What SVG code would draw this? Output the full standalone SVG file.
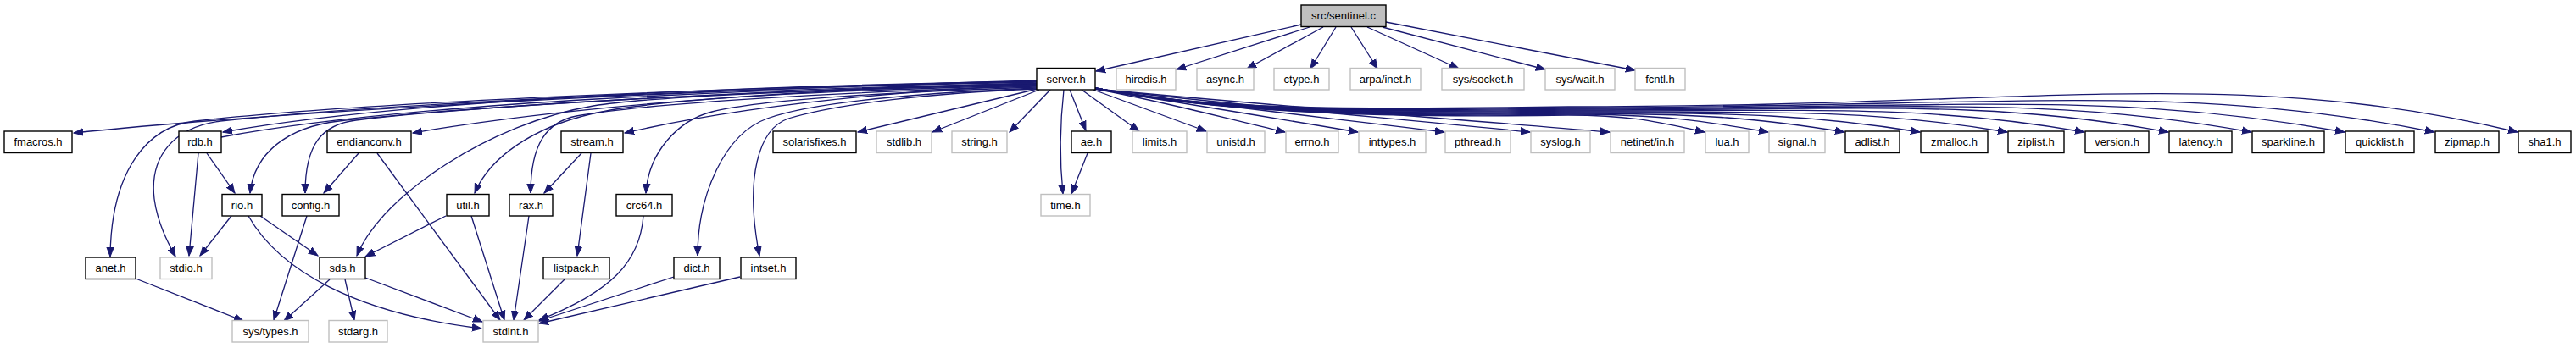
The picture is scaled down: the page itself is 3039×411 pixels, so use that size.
<svg xmlns="http://www.w3.org/2000/svg" width="3039" height="411" viewBox="0 0 3039 411">
<style>
.nb{fill:#fff;stroke:#000;stroke-width:1.4}
.ng{fill:#fff;stroke:#bfbfbf;stroke-width:1.4}
.root{fill:#bfbfbf;stroke:#000;stroke-width:1.4}
text{font-family:"Liberation Sans",Arial,Helvetica,sans-serif;font-size:13px;text-anchor:middle;fill:#000}
#edges path{fill:none;stroke:#191970;stroke-width:1.3;marker-end:url(#ah)}
</style>
<defs>
<marker id="ah" viewBox="0 0 12 10" refX="11" refY="5" markerWidth="12" markerHeight="10" markerUnits="userSpaceOnUse" orient="auto">
<path d="M0,0.8 L11,5 L0,9.2 z" fill="#191970" stroke="#191970" stroke-width="1"/>
</marker>
</defs>
<rect x="0" y="0" width="3039" height="411" fill="#fff"/>
<g id="edges">
<path d="M1535,29 L1293,84"/>
<path d="M1545,32 L1388,82"/>
<path d="M1561,32 L1471,81"/>
<path d="M1576,32 L1546,81"/>
<path d="M1594,32 L1625,81"/>
<path d="M1613,32 L1721,81"/>
<path d="M1631,32 L1823,82"/>
<path d="M1635,26 L1929,83"/>
<path d="M1223,95 C900,104 400,125 87,157"/>
<path d="M1223,96 C900,101 480,117 263,156"/>
<path d="M261,162 C480,121 900,104 1222,99"/>
<path d="M1223,96 C900,102 430,120 230,143 C175,149 131,200 130,303"/>
<path d="M1223,97 C900,103 460,121 260,143 C205,150 176,185 182,235 C186,265 200,290 207,303"/>
<path d="M1223,99 C900,105 540,127 400,143 C340,150 300,180 295,228"/>
<path d="M1223,99 C900,106 560,125 420,142 C380,147 360,170 360,228"/>
<path d="M1223,98 C1000,104 700,120 487,157"/>
<path d="M1223,100 C1000,105 780,112 700,125 C580,145 450,230 421,302"/>
<path d="M1223,101 C1000,106 780,116 700,134 C630,150 578,185 560,228"/>
<path d="M1223,102 C1000,108 760,122 680,137 C645,144 626,170 626,228"/>
<path d="M1223,100 C1050,108 880,124 737,157"/>
<path d="M1223,103 C1050,109 900,117 840,132 C800,142 765,180 762,228"/>
<path d="M1223,104 C1080,110 960,120 905,140 C855,158 823,230 823,302"/>
<path d="M1223,105 C1100,110 990,122 930,140 C895,152 878,210 896,302"/>
<path d="M1224,105 L1012,156"/>
<path d="M1226,106 L1100,156"/>
<path d="M1239,106 L1191,156"/>
<path d="M1255,106 C1250,150 1250,190 1254,229"/>
<path d="M1262,106 L1281,154"/>
<path d="M1276,106 L1344,155"/>
<path d="M1290,106 L1423,155"/>
<path d="M1292,105 C1382,122 1438,138 1516,156"/>
<path d="M1292,105 C1416,125 1494,138 1602,156"/>
<path d="M1292,105 C1457,128 1560,138 1704,156"/>
<path d="M1292,105 C1498,128 1626,138 1805,156"/>
<path d="M1292,105 C1535,128 1687,138 1899,156"/>
<path d="M1292,104 C1420,130 1600,140 1850,136 C1931,136 1963,146 2011,156"/>
<path d="M1292,104 C1420,130 1600,139 1850,135 C1968,135 2016,144 2086,156"/>
<path d="M1292,104 C1420,130 1600,138 1850,134 C2013,134 2078,140 2176,156"/>
<path d="M1292,104 C1420,130 1600,137 1850,133 C2058,133 2141,136 2265,156"/>
<path d="M1292,104 C1420,130 1600,136 1850,132 C2109,132 2213,130 2368,156"/>
<path d="M1292,104 C1420,130 1600,135 1850,131 C2155,131 2277,124 2459,156"/>
<path d="M1292,104 C1420,130 1600,134 1850,130 C2204,130 2346,117 2558,156"/>
<path d="M1292,104 C1420,130 1600,133 1850,129 C2253,129 2415,112 2656,156"/>
<path d="M1292,104 C1420,130 1600,132 1850,128 C2308,128 2492,106 2766,156"/>
<path d="M1292,104 C1420,130 1600,131 1850,127 C2361,127 2566,95 2872,156"/>
<path d="M1292,104 C1420,130 1600,130 1850,126 C2410,126 2635,76 2970,156"/>
<path d="M1283,181 L1264,229"/>
<path d="M234,181 L223,302"/>
<path d="M244,181 L277,228"/>
<path d="M423,181 L382,228"/>
<path d="M445,181 L590,378"/>
<path d="M686,181 L642,228"/>
<path d="M697,181 L681,302"/>
<path d="M273,255 L236,302"/>
<path d="M307,255 L375,302"/>
<path d="M293,255 C330,320 420,370 568,388"/>
<path d="M362,255 L323,378"/>
<path d="M526,255 L431,303"/>
<path d="M556,255 L595,378"/>
<path d="M624,255 L606,378"/>
<path d="M759,255 C755,310 720,345 636,378"/>
<path d="M160,329 L287,379"/>
<path d="M389,330 L335,379"/>
<path d="M407,330 L418,378"/>
<path d="M431,328 L569,380"/>
<path d="M666,330 L618,378"/>
<path d="M795,327 L636,379"/>
<path d="M873,327 L636,382"/>
</g>
<g id="n_sentinel"><rect class="root" x="1535" y="6" width="100" height="25.5"/><text x="1585" y="23">src/sentinel.c</text></g>
<g id="n_server"><rect class="nb" x="1223" y="80.5" width="69" height="25.5"/><text x="1257.5" y="97.5">server.h</text></g>
<g id="n_hiredis"><rect class="ng" x="1317" y="80.5" width="70" height="25.5"/><text x="1352" y="97.5">hiredis.h</text></g>
<g id="n_async"><rect class="ng" x="1412" y="80.5" width="67" height="25.5"/><text x="1445.5" y="97.5">async.h</text></g>
<g id="n_ctype"><rect class="ng" x="1503" y="80.5" width="65" height="25.5"/><text x="1535.5" y="97.5">ctype.h</text></g>
<g id="n_arpainet"><rect class="ng" x="1593" y="80.5" width="83" height="25.5"/><text x="1634.5" y="97.5">arpa/inet.h</text></g>
<g id="n_syssocket"><rect class="ng" x="1701" y="80.5" width="97" height="25.5"/><text x="1749.5" y="97.5">sys/socket.h</text></g>
<g id="n_syswait"><rect class="ng" x="1823" y="80.5" width="82" height="25.5"/><text x="1864" y="97.5">sys/wait.h</text></g>
<g id="n_fcntl"><rect class="ng" x="1929" y="80.5" width="59" height="25.5"/><text x="1958.5" y="97.5">fcntl.h</text></g>
<g id="n_fmacros"><rect class="nb" x="5" y="155" width="80" height="25.5"/><text x="45" y="172">fmacros.h</text></g>
<g id="n_rdb"><rect class="nb" x="211" y="155" width="50" height="25.5"/><text x="236" y="172">rdb.h</text></g>
<g id="n_endianconv"><rect class="nb" x="386" y="155" width="99" height="25.5"/><text x="435.5" y="172">endianconv.h</text></g>
<g id="n_stream"><rect class="nb" x="662" y="155" width="73" height="25.5"/><text x="698.5" y="172">stream.h</text></g>
<g id="n_solarisfixes"><rect class="nb" x="912" y="155" width="98" height="25.5"/><text x="961" y="172">solarisfixes.h</text></g>
<g id="n_stdlib"><rect class="ng" x="1034" y="155" width="65" height="25.5"/><text x="1066.5" y="172">stdlib.h</text></g>
<g id="n_string"><rect class="ng" x="1123" y="155" width="65" height="25.5"/><text x="1155.5" y="172">string.h</text></g>
<g id="n_ae"><rect class="nb" x="1264" y="155" width="47" height="25.5"/><text x="1287.5" y="172">ae.h</text></g>
<g id="n_limits"><rect class="ng" x="1336" y="155" width="64" height="25.5"/><text x="1368" y="172">limits.h</text></g>
<g id="n_unistd"><rect class="ng" x="1424" y="155" width="68" height="25.5"/><text x="1458" y="172">unistd.h</text></g>
<g id="n_errno"><rect class="ng" x="1517" y="155" width="62" height="25.5"/><text x="1548" y="172">errno.h</text></g>
<g id="n_inttypes"><rect class="ng" x="1603" y="155" width="79" height="25.5"/><text x="1642.5" y="172">inttypes.h</text></g>
<g id="n_pthread"><rect class="ng" x="1705" y="155" width="77" height="25.5"/><text x="1743.5" y="172">pthread.h</text></g>
<g id="n_syslog"><rect class="ng" x="1806" y="155" width="70" height="25.5"/><text x="1841" y="172">syslog.h</text></g>
<g id="n_netinetin"><rect class="ng" x="1900" y="155" width="87" height="25.5"/><text x="1943.5" y="172">netinet/in.h</text></g>
<g id="n_lua"><rect class="ng" x="2012" y="155" width="51" height="25.5"/><text x="2037.5" y="172">lua.h</text></g>
<g id="n_signal"><rect class="ng" x="2087" y="155" width="66" height="25.5"/><text x="2120" y="172">signal.h</text></g>
<g id="n_adlist"><rect class="nb" x="2177" y="155" width="64" height="25.5"/><text x="2209" y="172">adlist.h</text></g>
<g id="n_zmalloc"><rect class="nb" x="2266" y="155" width="79" height="25.5"/><text x="2305.5" y="172">zmalloc.h</text></g>
<g id="n_ziplist"><rect class="nb" x="2369" y="155" width="66" height="25.5"/><text x="2402" y="172">ziplist.h</text></g>
<g id="n_version"><rect class="nb" x="2460" y="155" width="75" height="25.5"/><text x="2497.5" y="172">version.h</text></g>
<g id="n_latency"><rect class="nb" x="2559" y="155" width="74" height="25.5"/><text x="2596" y="172">latency.h</text></g>
<g id="n_sparkline"><rect class="nb" x="2657" y="155" width="85" height="25.5"/><text x="2699.5" y="172">sparkline.h</text></g>
<g id="n_quicklist"><rect class="nb" x="2767" y="155" width="81" height="25.5"/><text x="2807.5" y="172">quicklist.h</text></g>
<g id="n_zipmap"><rect class="nb" x="2873" y="155" width="75" height="25.5"/><text x="2910.5" y="172">zipmap.h</text></g>
<g id="n_sha1"><rect class="nb" x="2971" y="155" width="62" height="25.5"/><text x="3002" y="172">sha1.h</text></g>
<g id="n_rio"><rect class="nb" x="262" y="229.5" width="47" height="25.5"/><text x="285.5" y="246.5">rio.h</text></g>
<g id="n_config"><rect class="nb" x="333" y="229.5" width="67" height="25.5"/><text x="366.5" y="246.5">config.h</text></g>
<g id="n_util"><rect class="nb" x="527" y="229.5" width="50" height="25.5"/><text x="552" y="246.5">util.h</text></g>
<g id="n_rax"><rect class="nb" x="601" y="229.5" width="51" height="25.5"/><text x="626.5" y="246.5">rax.h</text></g>
<g id="n_crc64"><rect class="nb" x="727" y="229.5" width="66" height="25.5"/><text x="760" y="246.5">crc64.h</text></g>
<g id="n_time"><rect class="ng" x="1228" y="229.5" width="58" height="25.5"/><text x="1257" y="246.5">time.h</text></g>
<g id="n_anet"><rect class="nb" x="101" y="304" width="59" height="25.5"/><text x="130.5" y="321">anet.h</text></g>
<g id="n_stdio"><rect class="ng" x="189" y="304" width="61" height="25.5"/><text x="219.5" y="321">stdio.h</text></g>
<g id="n_sds"><rect class="nb" x="377" y="304" width="54" height="25.5"/><text x="404" y="321">sds.h</text></g>
<g id="n_listpack"><rect class="nb" x="641" y="304" width="78" height="25.5"/><text x="680" y="321">listpack.h</text></g>
<g id="n_dict"><rect class="nb" x="795" y="304" width="54" height="25.5"/><text x="822" y="321">dict.h</text></g>
<g id="n_intset"><rect class="nb" x="874" y="304" width="65" height="25.5"/><text x="906.5" y="321">intset.h</text></g>
<g id="n_systypes"><rect class="ng" x="274" y="378.5" width="90" height="25.5"/><text x="319" y="395.5">sys/types.h</text></g>
<g id="n_stdarg"><rect class="ng" x="388" y="378.5" width="69" height="25.5"/><text x="422.5" y="395.5">stdarg.h</text></g>
<g id="n_stdint"><rect class="ng" x="570" y="378.5" width="65" height="25.5"/><text x="602.5" y="395.5">stdint.h</text></g>
</svg>
